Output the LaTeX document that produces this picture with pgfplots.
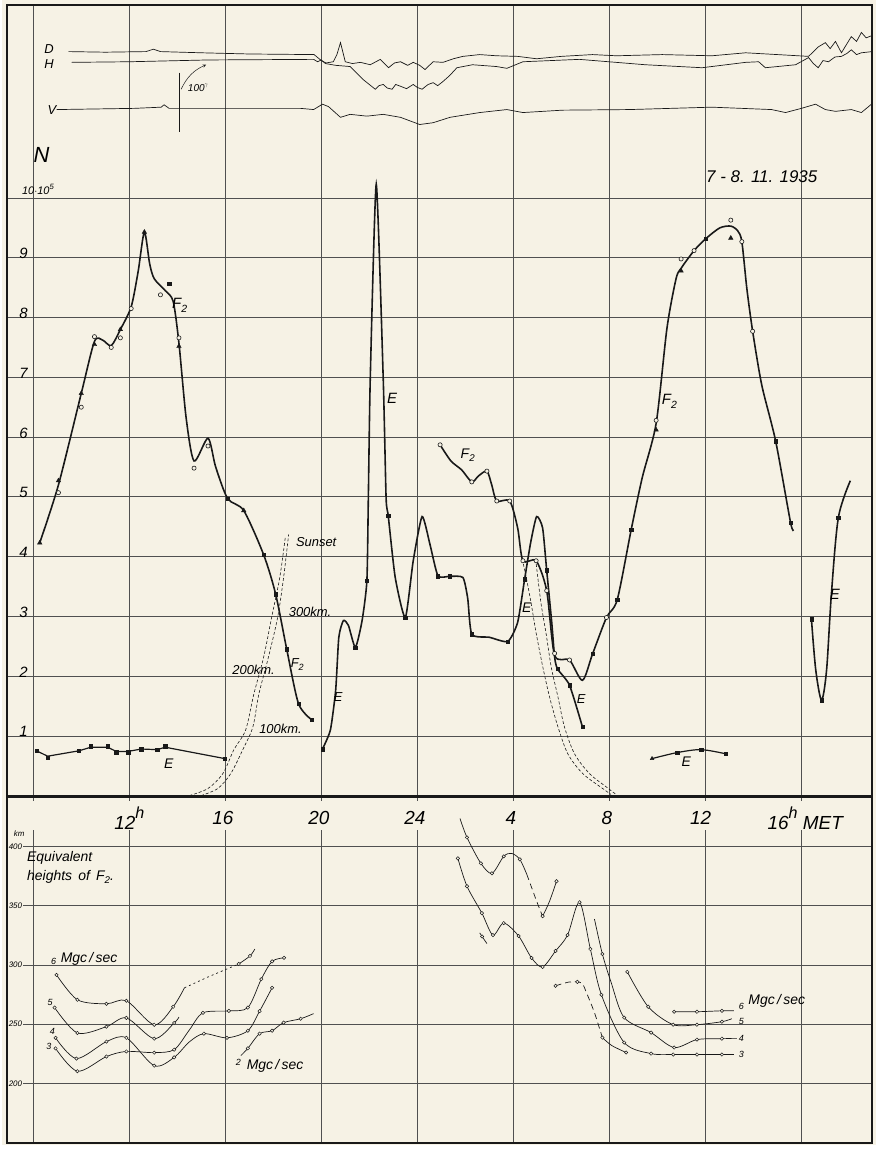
\documentclass[border=0pt]{standalone}
\usepackage{pgfplots}
\pgfplotsset{compat=1.18}
\usepackage{fontspec}
\setmainfont{Liberation Sans}
\definecolor{paper}{RGB}{246,242,229}
\definecolor{gridc}{RGB}{80,80,80}
\definecolor{ink}{RGB}{25,25,25}
\newcommand{\fs}[1]{\fontsize{#1}{#1}\selectfont\itshape}
\newcommand{\Ftwo}{F\raisebox{-0.45ex}{\scalebox{0.7}{2}}}
\tikzset{
 oc/.style={only marks, mark=*, mark size=2.1pt, mark options={fill=paper, draw=ink, line width=0.6pt}},
 tri/.style={only marks, mark=triangle*, mark size=2.6pt, mark options={fill=ink, draw=ink}},
 sq/.style={only marks, mark=square*, mark size=1.7pt, mark options={fill=ink, draw=ink}},
 main/.style={ink, line width=1.6pt, smooth, tension=0.45},
 trace/.style={ink, line width=0.7pt},
 thin/.style={ink, line width=0.7pt, smooth, tension=0.5},
 soc/.style={only marks, mark=*, mark size=1.7pt, mark options={fill=paper, draw=ink, line width=0.5pt}},
 sunset/.style={ink, line width=0.6pt, dash pattern=on 3pt off 2pt, smooth},
}
\begin{document}
\begin{tikzpicture}
\fill[paper] (0pt,0pt) rectangle (878pt,-1150pt);
% ================= upper panel =================
\begin{axis}[
 at={(5pt,-799pt)}, anchor=south west,
 scale only axis, width=869pt, height=794pt,
 xmin=6.9, xmax=42.95, ymin=0, ymax=13.23,
 axis line style={line width=1.8pt, ink},
 xtick={8,12,...,40}, ytick={1,...,10},
 xticklabels={}, yticklabels={},
 major tick length=0pt,
 grid=major, grid style={gridc, line width=0.7pt},
 clip=false,
]
% magnetogram traces
\addplot[trace] coordinates {(9.47,12.45)(11,12.44)(12.7,12.45)(13.0,12.49)(13.3,12.45)(15,12.43)(17,12.41)(19.7,12.4)(20.0,12.3)(20.2,12.26)(20.5,12.28)(20.65,12.4)(20.8,12.6)(21.0,12.28)(21.3,12.25)(21.63,12.27)(22.04,12.23)(22.46,12.32)(22.8,12.18)(23.05,12.26)(23.3,12.28)(23.6,12.22)(23.83,12.27)(24.1,12.22)(24.32,12.15)(24.66,12.28)(25.07,12.27)(25.5,12.33)(25.9,12.37)(26.6,12.4)(27.3,12.38)(28.18,12.37)(28.97,12.33)(30.0,12.37)(31.3,12.4)(32.3,12.38)(34.2,12.4)(36.27,12.38)(37.68,12.43)(39.0,12.4)(40.3,12.37)(40.71,12.53)(41.0,12.6)(41.2,12.5)(41.42,12.62)(41.67,12.43)(41.85,12.55)(42.08,12.7)(42.3,12.62)(42.5,12.77)(42.7,12.68)(42.95,12.72)};
\addplot[trace] coordinates {(9.6,12.27)(12,12.28)(15.28,12.31)(19.68,12.32)(19.85,12.28)(20.0,12.31)(20.17,12.25)(20.6,12.22)(21.2,12.2)(21.5,12.08)(21.75,11.98)(22.0,11.9)(22.25,11.82)(22.4,11.88)(22.58,11.9)(22.75,11.84)(22.95,11.82)(23.1,11.9)(23.3,11.87)(23.55,11.83)(23.83,11.9)(24.0,11.85)(24.2,11.82)(24.45,11.9)(24.66,11.93)(24.85,11.88)(25.07,11.95)(25.35,12.05)(25.65,12.18)(26.3,12.23)(27.3,12.2)(27.73,12.17)(28.4,12.28)(30.75,12.32)(33.5,12.23)(35.86,12.18)(37.68,12.27)(38.22,12.28)(38.5,12.18)(39.76,12.23)(40.3,12.35)(40.5,12.25)(40.7,12.18)(40.9,12.3)(41.13,12.28)(41.4,12.36)(41.67,12.37)(41.9,12.42)(42.08,12.48)(42.3,12.4)(42.5,12.43)(42.95,12.45)};
\addplot[trace] coordinates {(8.97,11.48)(12.2,11.5)(13.33,11.52)(13.45,11.56)(13.66,11.5)(19.14,11.5)(19.68,11.48)(20.05,11.57)(20.3,11.53)(20.8,11.35)(21.2,11.4)(21.9,11.37)(22.58,11.4)(23.3,11.35)(24.1,11.23)(24.66,11.26)(25.36,11.35)(26.6,11.43)(27.73,11.48)(28.4,11.43)(30.05,11.47)(32.83,11.48)(36.27,11.52)(38.76,11.48)(39.34,11.43)(40.0,11.5)(40.59,11.57)(41.0,11.48)(41.42,11.45)(42.08,11.48)(42.5,11.43)(42.95,11.58)};
\node[font=\fs{13}] at (8.66,12.5) {D};
\node[font=\fs{13}] at (8.66,12.24) {H};
\node[font=\fs{13}] at (8.78,11.48) {V};
\draw[ink, line width=0.8pt] (14.07,12.1) -- (14.07,11.1);
\draw[ink, line width=0.5pt, -stealth] (14.16,11.82) to[bend left=20] (15.2,12.23);
\node[font=\fs{10}, anchor=west] at (14.3,11.85) {100\raisebox{0.9ex}{\scalebox{0.6}{$\gamma$}}};
% axis labels
\node[font=\fs{22}] at (8.35,10.72) {N};
\node[font=\fs{11}, anchor=west] at (7.39,10.15) {10$\cdot$10\raisebox{0.9ex}{\scalebox{0.7}{5}}};
\pgfplotsinvokeforeach{1,...,9}{\node[font=\fs{15}] at (7.6,#1+0.07) {#1};}
\node[font=\fs{17}] at (38.35,10.35) {7 - 8. 11. 1935};
% F2 day 1
\addplot[main] coordinates {(8.27,4.23)(9.05,5.2)(10.0,6.73)(10.55,7.6)(10.9,7.62)(11.25,7.53)(11.63,7.8)(12.08,8.18)(12.37,8.77)(12.63,9.43)(12.85,8.9)(13.04,8.65)(13.5,8.45)(13.83,8.27)(14.07,7.57)(14.37,6.32)(14.7,5.6)(15.28,5.98)(15.6,5.5)(16.1,4.97)(16.77,4.77)(17.6,4.03)(18.1,3.37)(18.56,2.45)(19.05,1.54)(19.6,1.27)};
\addplot[oc] coordinates {(9.05,5.07)(10.0,6.5)(10.55,7.68)(11.25,7.5)(11.63,7.66)(12.08,8.15)(13.3,8.38)(14.07,7.66)(14.7,5.48)(15.28,5.85)};
\addplot[tri] coordinates {(8.27,4.23)(9.05,5.27)(10.0,6.73)(10.55,7.55)(11.63,7.8)(12.63,9.43)(14.07,7.52)(16.77,4.77)};
\addplot[sq] coordinates {(13.67,8.57)(16.1,4.97)(17.6,4.03)(18.1,3.37)(18.56,2.45)(19.05,1.54)(19.6,1.27)};
% E day 1 low
\addplot[ink, line width=1.2pt] coordinates {(8.14,0.75)(8.6,0.66)(9.9,0.75)(10.4,0.81)(11.1,0.81)(11.46,0.74)(11.95,0.74)(12.5,0.78)(13.16,0.77)(13.5,0.81)(15.98,0.62)};
\addplot[sq] coordinates {(8.14,0.75)(8.6,0.63)(9.9,0.75)(10.4,0.83)(11.1,0.83)(11.46,0.73)(11.95,0.73)(12.5,0.78)(13.16,0.77)(13.5,0.83)(15.98,0.62)};
% night E
\addplot[main, tension=0.35] coordinates {(20.05,0.78)(20.38,1.1)(20.6,1.77)(20.73,2.65)(20.92,2.93)(21.13,2.85)(21.42,2.48)(21.7,2.93)(21.9,3.6)(21.96,4.98)(22.04,6.98)(22.29,10.23)(22.58,6.98)(22.7,4.98)(22.79,4.68)(23.08,3.65)(23.5,2.98)(23.83,3.93)(24.2,4.67)(24.53,4.2)(24.86,3.68)(25.36,3.67)(25.9,3.65)(26.1,3.3)(26.27,2.7)(27.0,2.65)(27.77,2.58)(28.18,2.9)(28.47,3.62)(28.72,4.23)(28.97,4.67)(29.22,4.48)(29.39,3.77)(29.6,2.9)(29.72,2.32)(29.84,2.12)(30.34,1.85)(30.88,1.15)};
\addplot[sq] coordinates {(20.05,0.78)(21.42,2.48)(21.9,3.6)(22.79,4.68)(23.5,2.98)(24.86,3.67)(25.36,3.67)(26.27,2.7)(27.77,2.58)(28.47,3.62)(29.39,3.77)(29.84,2.12)(30.34,1.85)(30.88,1.15)};
% F2 night and day 2
\addplot[main] coordinates {(24.95,5.87)(25.4,5.6)(25.85,5.45)(26.27,5.25)(26.55,5.35)(26.9,5.43)(27.1,5.2)(27.31,4.93)(27.85,4.93)(28.18,4.48)(28.4,3.93)(28.95,3.93)(29.39,3.43)(29.72,2.35)(30.34,2.27)(30.88,1.93)(31.3,2.37)(31.88,2.98)(32.33,3.28)(32.91,4.45)(33.37,5.32)(33.95,6.23)(34.4,7.82)(34.78,8.65)(35.0,8.83)(35.53,9.12)(36.02,9.32)(36.6,9.5)(37.06,9.53)(37.35,9.45)(37.52,9.27)(37.73,8.48)(37.97,7.77)(38.35,6.87)(38.93,5.93)(39.55,4.57)(39.68,4.45)};
\addplot[oc] coordinates {(24.95,5.87)(26.27,5.25)(26.9,5.43)(27.31,4.93)(27.85,4.93)(28.4,3.93)(28.95,3.93)(29.39,3.43)(29.72,2.38)(30.34,2.27)(31.88,2.98)(33.95,6.28)(34.99,8.98)(35.53,9.12)(37.06,9.63)(37.52,9.27)(37.97,7.77)};
\addplot[tri] coordinates {(33.95,6.12)(34.99,8.78)(37.06,9.33)};
\addplot[sq] coordinates {(31.3,2.37)(32.33,3.28)(32.91,4.45)(36.02,9.32)(38.93,5.93)(39.55,4.57)};
% E day 2 low
\addplot[ink, line width=1.2pt, smooth] coordinates {(33.78,0.62)(34.82,0.72)(35.82,0.77)(36.85,0.7)};
\addplot[tri, mark size=2.2pt] coordinates {(33.78,0.62)};
\addplot[sq] coordinates {(34.82,0.72)(35.82,0.77)(36.85,0.7)};
% E day 2 right
\addplot[main, tension=0.5] coordinates {(40.42,2.95)(40.6,2.1)(40.84,1.6)(41.05,2.1)(41.25,3.37)(41.54,4.65)(42.04,5.27)};
\addplot[sq] coordinates {(40.42,2.95)(40.84,1.6)(41.54,4.65)};
% sunset lines
\addplot[sunset] coordinates {(14.5,0)(15.28,0.12)(15.9,0.37)(16.36,0.77)(16.85,1.1)(17.19,1.7)(17.6,2.32)(17.93,2.98)(18.27,3.65)(18.5,4.32)};
\addplot[sunset] coordinates {(14.99,0)(15.69,0.12)(16.23,0.37)(16.73,0.77)(17.15,1.15)(17.4,1.7)(17.8,2.32)(18.18,2.98)(18.43,3.65)(18.64,4.37)};
\addplot[sunset] coordinates {(28.37,3.96)(28.54,3.65)(28.75,3.2)(28.96,2.7)(29.23,2.15)(29.51,1.65)(29.86,1.15)(30.27,0.7)(30.89,0.37)(31.72,0.12)(32.07,0.02)};
\addplot[sunset] coordinates {(28.93,3.96)(29.02,3.65)(29.16,3.2)(29.37,2.7)(29.58,2.15)(29.86,1.65)(30.13,1.15)(30.55,0.7)(31.17,0.37)(31.86,0.15)(32.28,0.02)};
\node[font=\fs{13}, anchor=west] at (18.8,4.25) {Sunset};
\node[font=\fs{13}, anchor=west] at (18.5,3.08) {300km.};
\node[font=\fs{13}, anchor=west] at (16.15,2.1) {200km.};
\node[font=\fs{13}, anchor=west] at (17.27,1.12) {100km.};
% curve labels
\node[font=\fs{15}] at (14.1,8.2) {\Ftwo};
\node[font=\fs{15}] at (22.95,6.65) {E};
\node[font=\fs{14}] at (26.1,5.7) {\Ftwo};
\node[font=\fs{15}] at (34.5,6.6) {\Ftwo};
\node[font=\fs{14}] at (13.65,0.53) {E};
\node[font=\fs{13}] at (19.0,2.2) {\Ftwo};
\node[font=\fs{13}] at (20.7,1.65) {E};
\node[font=\fs{14}] at (28.56,3.15) {E};
\node[font=\fs{13}] at (30.83,1.62) {E};
\node[font=\fs{14}] at (35.2,0.57) {E};
\node[font=\fs{15}] at (41.4,3.37) {E};
\end{axis}
% ================= lower panel =================
\begin{axis}[
 at={(5pt,-1148pt)}, anchor=south west,
 scale only axis, width=869pt, height=348pt,
 xmin=6.9, xmax=42.95, ymin=149.6, ymax=442,
 axis line style={line width=1.8pt, ink},
 xtick={8,12,...,40}, ytick={200,250,...,400},
 xticklabels={}, yticklabels={},
 major tick length=0pt,
 grid=major, grid style={gridc, line width=0.7pt},
 clip=false,
]
% tick labels along top
\fill[paper] (7.1,414) rectangle (42.8,438);
\node[font=\fs{19}] at (12,424) {12\raisebox{1.1ex}{\scalebox{0.85}{h}}};
\node[font=\fs{19}] at (15.9,424) {16};
\node[font=\fs{19}] at (19.9,424) {20};
\node[font=\fs{19}] at (23.9,424) {24};
\node[font=\fs{19}] at (27.9,424) {4};
\node[font=\fs{19}] at (31.9,424) {8};
\node[font=\fs{19}] at (35.8,424) {12};
\node[font=\fs{19}, anchor=west] at (38.45,424) {16\raisebox{1.1ex}{\scalebox{0.85}{h}} MET};
\node[font=\fs{8}, anchor=west] at (7.05,411) {km};
\pgfplotsinvokeforeach{200,250,...,400}{\node[font=\fs{8}, anchor=west, fill=paper, inner xsep=1pt, inner ysep=0.5pt] at (6.93,#1) {#1};}
\node[font=\fs{14}, anchor=west] at (7.6,390) {Equivalent};
\node[font=\fs{14}, anchor=west] at (7.6,374) {heights\, of\, \Ftwo.};
% left curves
\addplot[thin] coordinates {(8.97,291.6)(9.84,270.6)(11.05,267.2)(11.88,269.8)(13.04,249.5)(13.83,264.7)(14.3,280.7)};
\addplot[ink, line width=0.7pt, dash pattern=on 2pt off 3pt] coordinates {(14.3,280.7)(15.3,290)(16.56,300.8)};
\addplot[thin] coordinates {(16.56,300.8)(17.03,307.6)(17.23,313.4)};
\addplot[soc] coordinates {(8.97,291.6)(9.84,270.6)(11.05,267.2)(11.88,269.8)(13.04,249.5)(13.83,264.7)(16.56,300.8)(17.03,307.6)};
\addplot[thin] coordinates {(8.89,264)(9.84,242.6)(11.05,247.9)(11.88,255.3)(13.04,237.8)(13.87,251)(14.07,256)};
\addplot[soc] coordinates {(8.89,264)(9.84,242.6)(11.05,247.9)(11.88,255.3)(13.04,237.8)(13.87,251)};
\addplot[thin] coordinates {(8.93,238.5)(9.8,221)(11.05,235.3)(11.88,238.5)(13.04,215)(13.87,222)(14.5,235)(15.11,242)(16.07,238.5)(16.94,244.5)(17.43,261)(17.95,280.7)};
\addplot[soc] coordinates {(8.93,238.5)(9.8,221)(11.05,235.3)(11.88,238.5)(13.04,215)(13.87,222)(15.11,242)(16.07,238.5)(16.94,244.5)(17.43,261)(17.95,280.7)};
\addplot[thin] coordinates {(8.93,229.6)(9.84,210.3)(11.05,222.7)(11.88,227)(13.04,226)(13.87,228.5)(14.5,245)(15.07,259.6)(16.15,261.2)(16.94,264)(17.5,288)(17.95,303)(18.45,306)};
\addplot[soc] coordinates {(8.93,229.6)(9.84,210.3)(11.05,222.7)(11.88,227)(13.04,226)(13.87,228.5)(15.07,259.6)(16.15,261.2)(16.94,264)(17.5,288)(17.95,303)(18.45,306)};
\addplot[thin] coordinates {(16.65,223.5)(16.94,229.6)(17.43,242)(17.95,244.5)(18.43,251.3)(19.14,254.6)(19.68,258.9)};
\addplot[soc] coordinates {(16.94,229.6)(17.43,242)(17.95,244.5)(18.43,251.3)(19.14,254.6)};
\node[font=\fs{9}] at (8.85,303) {6};
\node[font=\fs{14}, anchor=west] at (9.0,305) {Mgc\,/\,sec};
\node[font=\fs{9}] at (8.7,268) {5};
\node[font=\fs{9}] at (8.8,244) {4};
\node[font=\fs{9}] at (8.65,231) {3};
\node[font=\fs{9}] at (16.55,218) {2};
\node[font=\fs{14}, anchor=west] at (16.75,215) {Mgc\,/\,sec};
% right curves
\addplot[thin] coordinates {(25.78,423.5)(26.07,407.6)(26.65,385.7)(27.11,377.3)(27.6,391.6)(27.93,394.1)(28.27,389.1)(28.56,376.5)};
\addplot[ink, line width=0.7pt, dash pattern=on 6pt off 4pt] coordinates {(28.56,376.5)(28.97,353.8)(29.18,342.9)};
\addplot[thin] coordinates {(29.18,342.9)(29.22,341.2)(29.51,353.8)(29.8,370.6)};
\addplot[soc] coordinates {(26.07,407.6)(26.65,385.7)(27.11,377.3)(27.6,391.6)(28.27,389.1)(29.22,341.2)(29.8,370.6)};
\addplot[thin] coordinates {(25.69,389.9)(26.07,366.4)(26.69,343.7)(27.15,325.2)(27.6,335.3)(28.22,324.4)(28.76,305.9)(29.22,298.3)(29.76,311.8)(30.26,325.2)(30.76,352.9)(31.21,313.4)(31.67,274.8)(32.62,234.5)(33.74,225.2)(34.66,224.4)(35.65,224.4)(36.69,224.4)(37.19,224.4)};
\addplot[soc] coordinates {(25.69,389.9)(26.07,366.4)(26.69,343.7)(27.15,325.2)(27.6,335.3)(28.22,324.4)(28.76,305.9)(29.22,298.3)(29.76,311.8)(30.26,325.2)(30.76,352.9)(31.21,313.4)(31.67,274.8)(32.62,234.5)(33.74,225.2)(34.66,224.4)(35.65,224.4)(36.69,224.4)};
\addplot[thin] coordinates {(31.38,338.7)(31.71,309.2)(32.08,284.9)(32.62,255.5)(33.74,242.9)(34.7,230.3)(35.65,237)(36.69,237.8)(37.31,237.8)};
\addplot[soc] coordinates {(31.71,309.2)(32.62,255.5)(33.74,242.9)(34.7,230.3)(35.65,237)(36.69,237.8)};
\addplot[ink, line width=0.7pt] coordinates {(26.6,327)(26.9,318)};
\addplot[soc] coordinates {(26.7,324)};
\addplot[ink, line width=0.7pt, dash pattern=on 6pt off 4pt, smooth] coordinates {(29.76,282.4)(30.3,285.5)(30.67,285.7)(30.88,284)(31.05,276.5)(31.38,259.7)(31.71,238.7)};
\addplot[thin] coordinates {(31.71,238.7)(32.1,232)(32.7,226.1)};
\addplot[soc] coordinates {(29.76,282.4)(30.67,285.7)(31.71,238.7)(32.7,226.1)};
\addplot[thin] coordinates {(32.75,294.1)(33.62,264.7)(34.66,249.6)(35.65,249.6)(36.69,252.1)(37.1,254.6)};
\addplot[soc] coordinates {(32.75,294.1)(33.62,264.7)(34.66,249.6)(35.65,249.6)(36.69,252.1)};
\addplot[thin] coordinates {(34.7,260.5)(35.65,260.5)(36.69,261.3)(37.19,261.3)};
\addplot[soc] coordinates {(34.7,260.5)(35.65,260.5)(36.69,261.3)};
\node[font=\fs{9}] at (37.5,265) {6};
\node[font=\fs{14}, anchor=west] at (37.65,270) {Mgc\,/\,sec};
\node[font=\fs{9}] at (37.5,252) {5};
\node[font=\fs{9}] at (37.5,238) {4};
\node[font=\fs{9}] at (37.5,224.4) {3};
\end{axis}
\end{tikzpicture}
\end{document}
